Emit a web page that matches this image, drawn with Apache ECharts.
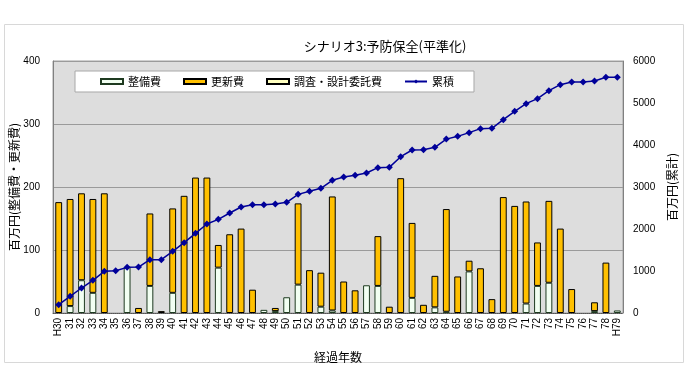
<!DOCTYPE html>
<html><head><meta charset="utf-8">
<script src="https://cdn.jsdelivr.net/npm/echarts@6/dist/echarts.min.js"></script>
<style>html,body{margin:0;padding:0;background:#fff}#c{width:690px;height:388px}</style>
</head><body><div id="c"></div>
<script>
var categories = ['H30','31','32','33','34','35','36','37','38','39','40','41','42','43','44','45','46','47','48','49','50','51','52','53','54','55','56','57','58','59','60','61','62','63','64','65','66','67','68','69','70','71','72','73','74','75','76','77','78','H79'];
var seibi = [0,11,52,32,0,0,73,0,43,0,32,0,0,0,72,0,0,0,5,3,25,45,0,10,4,0,0,44,43,0,0,24,0,9,2,0,66,0,0,0,0,15,43,48,0,0,0,3,0,4];
var koushin = [176,170,138,149,190,0,0,8,115,3,134,186,215,215,36,125,134,37,0,5,0,129,68,54,181,50,36,0,79,10,214,119,13,50,163,58,17,71,22,184,170,162,69,130,134,38,0,14,80,0];
var chousa = [0,0,0,0,0,0,0,0,0,0,0,0,0,0,0,0,0,0,0,0,0,0,0,0,0,0,0,0,0,0,0,0,0,0,0,0,0,0,0,0,0,0,0,0,0,0,0,0,0,0];
var ruiseki = [198,397,595,778,992,1008,1087,1095,1270,1270,1468,1675,1897,2119,2230,2381,2524,2579,2579,2595,2635,2825,2897,2968,3159,3238,3278,3333,3460,3468,3722,3881,3889,3945,4140,4206,4294,4389,4397,4603,4802,4984,5103,5294,5437,5500,5500,5524,5611,5611];
var leftTicks = [0,100,200,300,400];
var rightTicks = [0,1000,2000,3000,4000,5000,6000];

var F = '"Noto Sans CJK JP", sans-serif';
var A = '"Liberation Sans", Arial, sans-serif';
function nz(a){return a.map(function(v){return v===0?null:v;});}
var chart = echarts.init(document.getElementById('c'), null, {renderer:'canvas'});
chart.setOption({
  animation:false,
  textStyle:{fontFamily:F},
  graphic:[{type:'rect',shape:{x:4.5,y:24.5,width:679,height:338},style:{fill:'none',stroke:'#D8D8D8',lineWidth:1},z:-10}],
  title:{text:'シナリオ3:予防保全(平準化)',left:380,top:35,textAlign:'center',textStyle:{fontFamily:F,fontSize:13,fontWeight:'normal',color:'#000'}},
  legend:{
    left:75, top:71, width:386, height:16,
    backgroundColor:'#fff', borderColor:'#A8A8A8', borderWidth:1,
    padding:[5,20,5,25], itemGap:22, itemWidth:22, itemHeight:5,
    textStyle:{fontFamily:F,fontSize:11,color:'#000'},
    data:[
      {name:'整備費',icon:'rect'},
      {name:'更新費',icon:'rect'},
      {name:'調査・設計委託費',icon:'rect'},
      {name:'累積'}
    ]
  },
  grid:{left:53,right:67,top:61,bottom:75,outerBoundsMode:'none',containLabel:false,show:true,backgroundColor:'#DDDDDD',borderColor:'#A0A0A0',borderWidth:1},
  xAxis:{type:'category',data:categories,
    name:'経過年数',nameLocation:'middle',nameGap:38,nameMoveOverlap:false,nameTextStyle:{fontFamily:F,fontSize:12,color:'#000'},
    axisLine:{lineStyle:{color:'#555',type:'dotted'}},axisTick:{show:false},
    axisLabel:{rotate:90,interval:0,fontSize:10,color:'#000',fontFamily:A,margin:5}},
  yAxis:[
    {type:'value',min:0,max:400,interval:100,
     name:'百万円(整備費・更新費)',nameLocation:'middle',nameRotate:90,nameGap:33,nameMoveOverlap:false,
     nameTextStyle:{fontFamily:F,fontSize:12,color:'#000'},
     axisLine:{show:true,lineStyle:{color:'#808080'}},axisTick:{show:false},
     axisLabel:{fontSize:10,color:'#000',margin:13,fontFamily:A,formatter:function(v){return String(v);}},
     splitLine:{lineStyle:{color:'#9A9A9A',width:1}}},
    {type:'value',min:0,max:6000,interval:1000,
     name:'百万円(累計)',nameLocation:'middle',nameRotate:90,nameGap:43,nameMoveOverlap:false,
     nameTextStyle:{fontFamily:F,fontSize:12,color:'#000'},
     axisLine:{show:true,lineStyle:{color:'#808080'}},axisTick:{show:false},
     axisLabel:{fontSize:10,color:'#000',margin:10,fontFamily:A,formatter:function(v){return String(v);}},
     splitLine:{show:false}}
  ],
  series:[
    {name:'整備費',type:'bar',stack:'a',data:nz(seibi),barWidth:'60%',
     itemStyle:{color:'#F2FFF2',borderColor:'#1E3A20',borderWidth:1}},
    {name:'更新費',type:'bar',stack:'a',data:nz(koushin),barWidth:'60%',
     itemStyle:{color:'#FFC000',borderColor:'#000',borderWidth:1}},
    {name:'調査・設計委託費',type:'bar',stack:'a',data:nz(chousa),barWidth:'60%',
     itemStyle:{color:'#FFFFC0',borderColor:'#000',borderWidth:1}},
    {name:'累積',type:'line',yAxisIndex:1,data:ruiseki,symbol:'diamond',symbolSize:7,
     lineStyle:{color:'#000099',width:1.5},itemStyle:{color:'#000099'}}
  ]
});
</script></body></html>
